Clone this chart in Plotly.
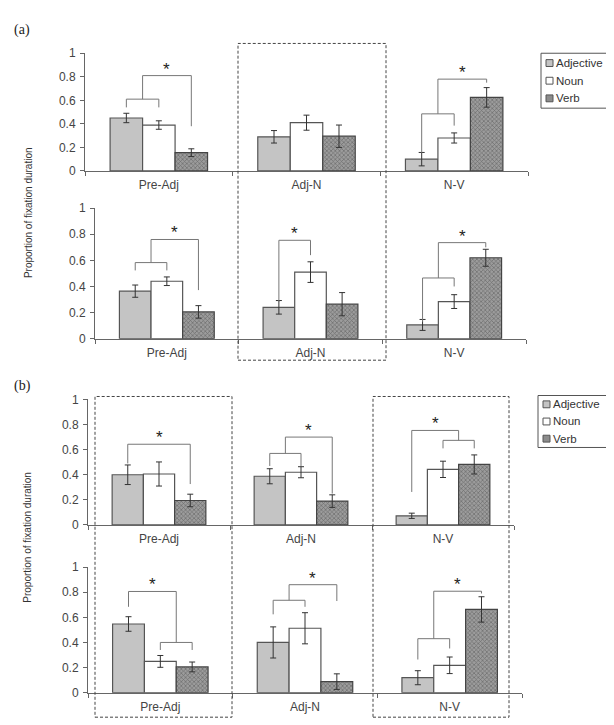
import plotly.graph_objects as go

W, H = 614, 725

categories = ["Pre-Adj", "Adj-N", "N-V"]
series_names = ["Adjective", "Noun", "Verb"]

# panel (a) upper
a_top_adj = [0.45, 0.29, 0.10]
a_top_adj_err = [0.04, 0.053, 0.057]
a_top_noun = [0.39, 0.41, 0.28]
a_top_noun_err = [0.036, 0.064, 0.043]
a_top_verb = [0.155, 0.295, 0.625]
a_top_verb_err = [0.033, 0.095, 0.083]

# panel (a) lower
a_bot_adj = [0.364, 0.24, 0.105]
a_bot_adj_err = [0.047, 0.052, 0.042]
a_bot_noun = [0.44, 0.51, 0.284]
a_bot_noun_err = [0.033, 0.079, 0.053]
a_bot_verb = [0.205, 0.264, 0.62]
a_bot_verb_err = [0.048, 0.089, 0.065]

# panel (b) upper
b_top_adj = [0.40, 0.388, 0.073]
b_top_adj_err = [0.078, 0.06, 0.021]
b_top_noun = [0.406, 0.42, 0.443]
b_top_noun_err = [0.096, 0.044, 0.065]
b_top_verb = [0.195, 0.19, 0.482]
b_top_verb_err = [0.05, 0.05, 0.076]

# panel (b) lower
b_bot_adj = [0.547, 0.40, 0.119]
b_bot_adj_err = [0.058, 0.124, 0.056]
b_bot_noun = [0.249, 0.513, 0.218]
b_bot_noun_err = [0.047, 0.124, 0.066]
b_bot_verb = [0.205, 0.088, 0.663]
b_bot_verb_err = [0.039, 0.062, 0.101]

# bracket ends: which bar (or midpoint between two bars) they sit on
A, N, V, AN, NV = "A", "N", "V", "AN", "NV"
# (category, left end, right end, top, left leg bottom, right leg bottom, star)
a_top_brackets = [
    (0, A, N, 0.61, 0.54, 0.54, False),
    (0, AN, V, 0.81, 0.61, 0.38, True),
    (2, A, N, 0.485, 0.155, 0.385, False),
    (2, AN, V, 0.78, 0.485, 0.75, True),
]
a_bot_brackets = [
    (0, A, N, 0.583, 0.523, 0.523, False),
    (0, AN, V, 0.76, 0.583, 0.372, True),
    (1, A, N, 0.754, 0.281, 0.64, True),
    (2, A, N, 0.465, 0.13, 0.40, False),
    (2, AN, V, 0.736, 0.465, 0.70, True),
]
b_top_brackets = [
    (0, A, V, 0.643, 0.49, 0.326, True),
    (1, A, N, 0.57, 0.47, 0.47, False),
    (1, AN, V, 0.70, 0.57, 0.25, True),
    (2, N, V, 0.674, 0.61, 0.61, False),
    (2, A, NV, 0.753, 0.263, 0.674, True),
]
b_bot_brackets = [
    (0, N, V, 0.40, 0.34, 0.34, False),
    (0, A, NV, 0.806, 0.684, 0.40, True),
    (1, A, N, 0.736, 0.624, 0.684, False),
    (1, AN, V, 0.86, 0.736, 0.73, True),
    (2, A, N, 0.43, 0.264, 0.352, False),
    (2, AN, V, 0.808, 0.43, 0.79, True),
]

bargap = 0.34
bw = (1 - bargap) / 3
offs = {A: -bw, N: 0.0, V: bw, AN: -bw / 2, NV: bw / 2}

# panel boxes in pixels: left, right, y of value 1, y of value 0
panels = [
    dict(px=(77, 520, 39, 159), data=[(a_top_adj, a_top_adj_err), (a_top_noun, a_top_noun_err), (a_top_verb, a_top_verb_err)],
         brackets=a_top_brackets),
    dict(px=(87, 518, 197, 330), data=[(a_bot_adj, a_bot_adj_err), (a_bot_noun, a_bot_noun_err), (a_bot_verb, a_bot_verb_err)],
         brackets=a_bot_brackets),
    dict(px=(80, 506, 392, 520), data=[(b_top_adj, b_top_adj_err), (b_top_noun, b_top_noun_err), (b_top_verb, b_top_verb_err)],
         brackets=b_top_brackets),
    dict(px=(80, 514, 563, 691), data=[(b_bot_adj, b_bot_adj_err), (b_bot_noun, b_bot_noun_err), (b_bot_verb, b_bot_verb_err)],
         brackets=b_bot_brackets),
]

fills = ["#c4c4c4", "#ffffff", "#8c8c8c"]
markers = [
    dict(color=fills[0], line=dict(color="#555555", width=1.2)),
    dict(color=fills[1], line=dict(color="#555555", width=1.2)),
    dict(color=fills[2], line=dict(color="#444444", width=1.2),
         pattern=dict(shape="x", fgcolor="#3c3c3c", bgcolor="#9c9c9c", size=3, solidity=0.4)),
]

tickfont = dict(family="Liberation Sans, Arial", size=12, color="#444444")

fig = go.Figure()
annotations = []
shapes = []
layout_axes = {}

for i, p in enumerate(panels):
    k = "" if i == 0 else str(i + 1)
    xref, yref = "x" + k, "y" + k
    l, r, y1, y0 = p["px"]
    layout_axes["xaxis" + k] = dict(
        domain=[l / W, r / W], anchor=yref, range=[-0.5, 2.5],
        tickmode="array", tickvals=[0, 1, 2], ticktext=categories, ticks="",
        minor=dict(tick0=-0.5, dtick=1, ticks="outside", ticklen=4, tickcolor="#666666"),
        showline=True, linecolor="#666666", linewidth=1, showgrid=False, zeroline=False,
        tickfont=tickfont, ticklabelstandoff=3, fixedrange=True,
    )
    layout_axes["yaxis" + k] = dict(
        domain=[1 - y0 / H, 1 - y1 / H], anchor=xref, range=[0, 1],
        tickmode="array", tickvals=[0, 0.2, 0.4, 0.6, 0.8, 1],
        ticktext=["0", "0.2", "0.4", "0.6", "0.8", "1"],
        ticks="outside", ticklen=4, tickcolor="#666666",
        showline=True, linecolor="#666666", linewidth=1, showgrid=False, zeroline=False,
        tickfont=tickfont, ticklabelstandoff=2, fixedrange=True,
    )
    for s, (vals, errs) in enumerate(p["data"]):
        fig.add_trace(go.Bar(
            x=[0, 1, 2], y=vals, name=series_names[s],
            error_y=dict(type="data", array=errs, color="#333333", thickness=1, width=3),
            marker=markers[s], xaxis=xref, yaxis=yref, showlegend=False,
        ))
    bx, by = [], []
    for cat, le, ri, top, lb, rb, star in p["brackets"]:
        xl = cat + offs[le]
        xr = cat + offs[ri]
        bx += [xl, xl, xr, xr, None]
        by += [lb, top, top, rb, None]
        if star:
            annotations.append(dict(
                x=(xl + xr) / 2, y=top, xref=xref, yref=yref, text="*",
                showarrow=False, yanchor="bottom", yshift=-5,
                font=dict(family="Liberation Sans, Arial", size=17, color="#222222"),
            ))
    fig.add_trace(go.Scatter(
        x=bx, y=by, mode="lines", line=dict(color="#777777", width=1),
        xaxis=xref, yaxis=yref, showlegend=False, hoverinfo="skip",
    ))

# dashed frames around highlighted regions (pixels: x0, y0, x1, y1)
frames = [(230, 29, 378, 352), (87, 389, 224, 716), (365, 389, 501, 716)]
for x0, y0, x1, y1 in frames:
    shapes.append(dict(type="rect", xref="paper", yref="paper",
                       x0=x0 / W, x1=x1 / W, y0=1 - y1 / H, y1=1 - y0 / H,
                       line=dict(color="#444444", width=1, dash="3px,2px")))

# legend boxes (pixels: x0, y0, x1, y1, first row centre, row step)
legend_boxes = [(533, 39, 606, 95, 49, 18), (530, 388, 606, 441, 397, 17.5)]
for x0, y0, x1, y1, row0, step in legend_boxes:
    shapes.append(dict(type="rect", xref="paper", yref="paper",
                       x0=x0 / W, x1=x1 / W, y0=1 - y1 / H, y1=1 - y0 / H,
                       line=dict(color="#555555", width=1), fillcolor="#ffffff", layer="below"))
    for s, name in enumerate(series_names):
        yc = row0 + s * step
        shapes.append(dict(type="rect", xref="paper", yref="paper",
                           x0=(x0 + 5) / W, x1=(x0 + 12) / W,
                           y0=1 - (yc + 3.5) / H, y1=1 - (yc - 3.5) / H,
                           line=dict(color="#555555", width=1), fillcolor=fills[s]))
        annotations.append(dict(x=(x0 + 13) / W, y=1 - yc / H, xref="paper", yref="paper",
                                text=name, showarrow=False, xanchor="left", yanchor="middle",
                                font=dict(family="Liberation Sans, Arial", size=11.5, color="#333333")))

ytitle_font = dict(family="Liberation Sans, Arial", size=10, color="#333333")
label_font = dict(family="Liberation Serif, Times New Roman", size=14, color="#222222")
annotations += [
    dict(x=4 / W, y=1 - 15 / H, xref="paper", yref="paper", text="(a)", showarrow=False,
         xanchor="left", yanchor="middle", font=label_font),
    dict(x=4 / W, y=1 - 378 / H, xref="paper", yref="paper", text="(b)", showarrow=False,
         xanchor="left", yanchor="middle", font=label_font),
    dict(x=20 / W, y=1 - 202 / H, xref="paper", yref="paper", text="Proportion of fixation duration",
         textangle=-90, showarrow=False, xanchor="center", yanchor="middle", font=ytitle_font),
    dict(x=20 / W, y=1 - 533 / H, xref="paper", yref="paper", text="Proportion of fixation duration",
         textangle=-90, showarrow=False, xanchor="center", yanchor="middle", font=ytitle_font),
]

fig.update_layout(
    width=W, height=H, margin=dict(l=0, r=0, t=0, b=0),
    paper_bgcolor="#ffffff", plot_bgcolor="#ffffff",
    barmode="group", bargap=bargap, bargroupgap=0,
    shapes=shapes, annotations=annotations, showlegend=False,
    **layout_axes,
)

fig.write_html("out.html")
